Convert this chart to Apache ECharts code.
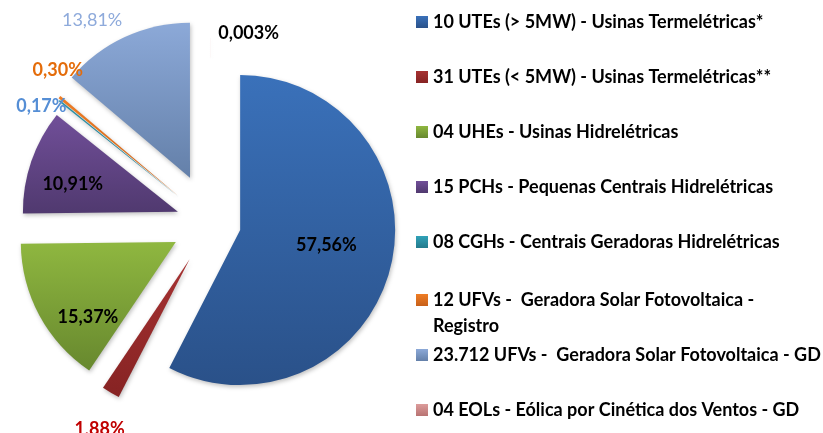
<!DOCTYPE html>
<html>
<head>
<meta charset="utf-8">
<script src="https://cdn.jsdelivr.net/npm/echarts@6/dist/echarts.min.js"></script>
<style>
html, body { margin: 0; padding: 0; background: #fff; }
#chart { width: 823px; height: 433px; }
</style>
</head>
<body>
<div id="chart"></div>
<script>
// data
var names = [
    '10 UTEs (> 5MW) - Usinas Termelétricas*',
    '31 UTEs (< 5MW) - Usinas Termelétricas**',
    '04 UHEs - Usinas Hidrelétricas',
    '15 PCHs - Pequenas Centrais Hidrelétricas',
    '08 CGHs - Centrais Geradoras Hidrelétricas',
    '12 UFVs -  Geradora Solar Fotovoltaica - Registro',
    '23.712 UFVs -  Geradora Solar Fotovoltaica - GD',
    '04 EOLs - Eólica por Cinética dos Ventos - GD'
];
var values = [57.56, 1.88, 15.37, 10.91, 0.17, 0.30, 13.81, 0.003];
var pctLabels = ['57,56%', '1,88%', '15,37%', '10,91%', '0,17%', '0,30%', '13,81%', '0,003%'];

// styles
var colors = [
    ['#3a71ba', '#2a5189'],
    ['#a63232', '#862323'],
    ['#8fb740', '#67882e'],
    ['#714f99', '#50396f'],
    ['#31a2b8', '#237a8c'],
    ['#ef7d24', '#c7601a'],
    ['#8ca9d8', '#6480a9'],
    ['#dc9c9b', '#b87372']
];
var labelColors = ['#000', '#c00000', '#000', '#000', '#558ed5', '#e46c0a', '#8eaadb', '#000'];
var labelWeights = ['bold', 'bold', 'bold', 'bold', 'bold', 'bold', 'normal', 'bold'];
var labelInside = [true, false, true, true, false, false, false, false];
var labelShift = [[8, -4], [22, 31], [-17, 37], [-29, -1], [17, 9], [33, -23], [5, -11], [73, 1]];
var explode = [30, 42, 40, 35, 40, 42, 50, 30];
var cx = 211, cy = 223, radius = 155;

var total = values.reduce(function (a, b) { return a + b; }, 0);
var series = [];
var acc = 0;
values.forEach(function (v, i) {
    var start = 90 - acc / total * 360;
    var mid = (start - v / total * 180) * Math.PI / 180;
    acc += v;
    var shift = labelShift[i];
    series.push({
        type: 'pie',
        silent: true,
        animation: false,
        clockwise: true,
        startAngle: start,
        radius: radius,
        center: [cx + explode[i] * Math.cos(mid), cy - explode[i] * Math.sin(mid)],
        avoidLabelOverlap: false,
        label: {
            show: true,
            position: labelInside[i] ? 'inside' : 'outside',
            formatter: pctLabels[i],
            color: labelColors[i],
            fontFamily: 'Lato',
            fontWeight: labelWeights[i],
            fontSize: 18
        },
        labelLine: { show: false, length: 6, length2: 0 },
        labelLayout: function () { return { dx: shift[0], dy: shift[1] }; },
        itemStyle: {
            borderWidth: 0,
            shadowBlur: 4,
            shadowOffsetX: 1,
            shadowOffsetY: 2,
            shadowColor: 'rgba(0,0,0,0.25)'
        },
        data: [
            {
                name: names[i], value: v,
                itemStyle: {
                    color: new echarts.graphic.LinearGradient(0, 0, 0, 1, [
                        { offset: 0, color: colors[i][0] },
                        { offset: 1, color: colors[i][1] }
                    ])
                }
            },
            {
                name: '', value: total - v,
                itemStyle: { color: 'rgba(0,0,0,0)', shadowColor: 'rgba(0,0,0,0)' },
                label: { show: false }
            }
        ]
    });
});

var legendText = {
    fontFamily: 'Lato',
    fontWeight: 'bold',
    fontSize: 18,
    color: '#000',
    lineHeight: 20
};
var legendBase = {
    orient: 'vertical',
    left: 416,
    padding: 0,
    icon: 'rect',
    itemWidth: 12,
    itemHeight: 12,
    itemGap: 35,
    selectedMode: false,
    textStyle: legendText
};

var option = {
    backgroundColor: '#fff',
    legend: [
        Object.assign({}, legendBase, { data: names.slice(0, 5), top: 12 }),
        Object.assign({}, legendBase, {
            data: [names[5]],
            top: 261,
            textStyle: Object.assign({}, legendText, { lineHeight: 26 }),
            formatter: function (n) { return '\n' + n.replace(' - Registro', ' -\nRegistro'); }
        }),
        Object.assign({}, legendBase, { data: names.slice(6), top: 345 })
    ],
    series: series
};

var myChart = echarts.init(document.getElementById('chart'));
myChart.setOption(option);
</script>
</body>
</html>
